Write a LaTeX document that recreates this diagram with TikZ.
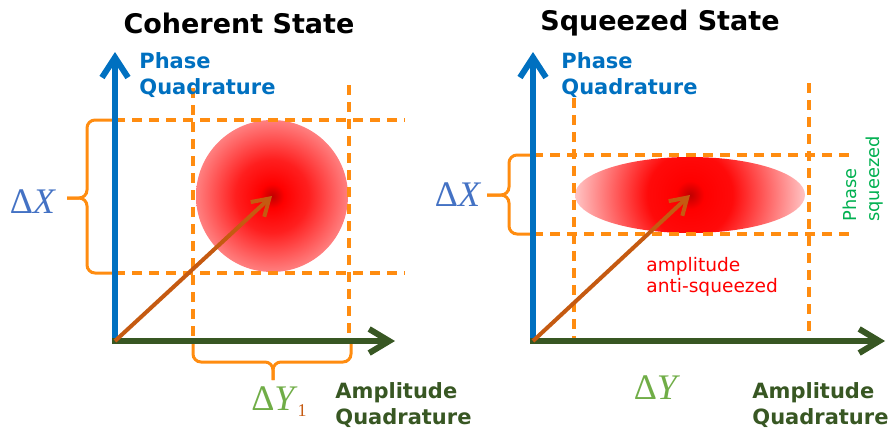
\documentclass[tikz,border=0pt]{standalone}
\usepackage{fontspec}
\setmainfont{DejaVu Sans}
\newfontfamily\deltafont{Liberation Serif}
\usetikzlibrary{arrows.meta}
\definecolor{axisblue}{RGB}{0,112,192}
\definecolor{axisgreen}{RGB}{56,87,35}
\definecolor{dashorange}{RGB}{255,140,16}
\definecolor{vecbrown}{RGB}{197,90,17}
\definecolor{dxblue}{RGB}{68,114,196}
\definecolor{dygreen}{RGB}{112,173,71}
\definecolor{sqgreen}{RGB}{0,176,80}
\pgfdeclareradialshading{roundblob}{\pgfpoint{0bp}{0bp}}{color(0bp)=(red!75!black); color(4bp)=(red); color(12bp)=(red!88); color(25bp)=(red!50); color(50bp)=(red!50)}
\pgfdeclareradialshading{flatblob}{\pgfpoint{0bp}{0bp}}{color(0bp)=(red!75!black); color(3bp)=(red); color(9bp)=(red!96); color(25bp)=(red!20); color(50bp)=(red!20)}

\begin{document}
\begin{tikzpicture}[x=0.5pt, y=-0.5pt,
  guide/.style={draw=dashorange, line width=1.6pt, dash pattern=on 5pt off 3.5pt},
  phaseaxis/.style={draw=axisblue, line width=3pt, -{Straight Barb[length=10pt,width=13pt]}},
  ampaxis/.style={draw=axisgreen, line width=3pt, -{Straight Barb[length=10pt,width=12pt]}},
  vec/.style={draw=vecbrown, line width=2pt, -{Straight Barb[length=8pt,width=10pt]}},
  bracket/.style={draw=dashorange, line width=1.5pt, rounded corners=4pt},
  heading/.style={font=\fontsize{13.5}{16}\selectfont\bfseries},
  axlabel/.style={font=\fontsize{10.5}{12.6}\selectfont\bfseries, align=left, anchor=west, inner sep=0pt},
  delta/.style={font=\fontsize{18}{18}\deltafont\selectfont}]
  \useasboundingbox (0,0) rectangle (894,429);

  \coordinate (O1) at (115,341);
  \coordinate (C1) at (272,196);
  \coordinate (P1) at (115,52);
  \coordinate (A1) at (395,341);
  \coordinate (O2) at (533,341);
  \coordinate (C2) at (690,195);
  \coordinate (P2) at (533,52);
  \coordinate (A2) at (885,341);

  \shade[shading=roundblob] (C1) circle [radius=76];
  \begin{scope}
    \clip (C2) ellipse [x radius=115, y radius=38];
    \shade[shading=flatblob] (C2) circle [radius=118];
  \end{scope}

  \draw[guide] (115,120) -- (405,120);
  \draw[guide] (115,273) -- (405,273);
  \draw[guide] (193,88) -- (193,343);
  \draw[guide] (349,85) -- (349,343);
  \draw[guide] (533,155) -- (852,155);
  \draw[guide] (533,234) -- (852,234);
  \draw[guide] (574,98) -- (574,341);
  \draw[guide] (809,83) -- (809,341);

  \draw[bracket] (113,120) -- (87,120) -- (87,198) -- (67,198);
  \draw[bracket] (113,273) -- (87,273) -- (87,198) -- (67,198);
  \draw[bracket] (193,343) -- (193,362) -- (273,362) -- (273,380);
  \draw[bracket] (351,343) -- (351,362) -- (273,362) -- (273,380);
  \draw[bracket] (531,155) -- (509,155) -- (509,195) -- (487,195);
  \draw[bracket] (531,234) -- (509,234) -- (509,195) -- (487,195);

  \draw[phaseaxis] ([yshift=-1.5pt]O1) -- (P1);
  \draw[ampaxis] ([xshift=-1.5pt]O1) -- (A1);
  \draw[phaseaxis] ([yshift=-1.5pt]O2) -- (P2);
  \draw[ampaxis] ([xshift=-1.5pt]O2) -- (A2);
  \draw[vec] (O1) -- (C1);
  \draw[vec] (O2) -- (C2);

  \node[heading] (t1) at (239,23) {Coherent State};
  \node[heading] (t2) at (660,23) {Squeezed State};
  \node[axlabel, text=axisblue] (ph1) at (139,75) {Phase\\Quadrature};
  \node[axlabel, text=axisblue] (ph2) at (561,75) {Phase\\Quadrature};
  \node[axlabel, text=axisgreen] (am1) at (335,405) {Amplitude\\Quadrature};
  \node[axlabel, text=axisgreen] (am2) at (752,405) {Amplitude\\Quadrature};
  \node[text=red, font=\fontsize{9.3}{10.5}\selectfont, align=left, anchor=west, inner sep=0pt] (anti) at (646,277) {amplitude\\anti-squeezed};
  \node[text=sqgreen, font=\fontsize{8.9}{11.5}\selectfont, align=left, rotate=90, anchor=west, inner sep=0pt] (psq) at (863,222) {Phase\\squeezed};
  \node[delta, text=dxblue] (dx1) at (33,202) {Δ\textit{X}};
  \node[delta, text=dxblue] (dx2) at (458,195) {Δ\textit{X}};
  \node[delta, text=dygreen] (dy1) at (279,402) {Δ\textit{Y}\raisebox{-3pt}{\fontsize{9}{9}\selectfont\color{vecbrown}1}};
  \node[delta, text=dygreen] (dy2) at (657,388) {Δ\textit{Y}};
\end{tikzpicture}
\end{document}
